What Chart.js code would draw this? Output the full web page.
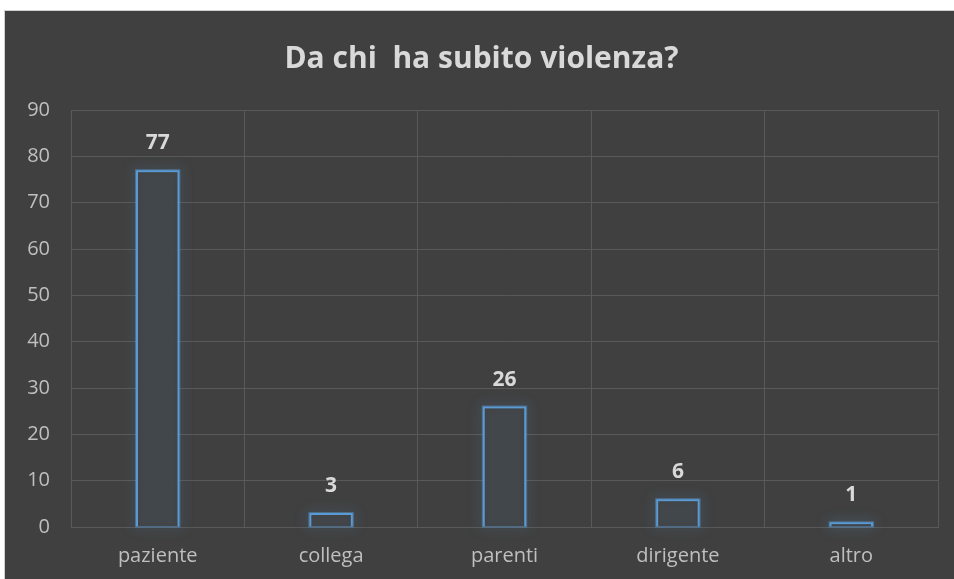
<!DOCTYPE html>
<html>
<head>
<meta charset="utf-8">
<script src="https://cdn.jsdelivr.net/npm/chart.js@4/dist/chart.umd.min.js"></script>
<style>
    body { margin: 0; background: #ffffff; }
    #wrap {
        position: absolute; left: 4px; top: 10px;
        width: 950px; height: 569px;
        background: #404040;
        border-top: 1px solid #d0d0d0;
        border-left: 1px solid #d0d0d0;
        box-sizing: border-box;
    }
</style>
</head>
<body>
<div id="wrap"><canvas id="violenzaChart"></canvas></div>
<script>
const categories = ["paziente", "collega", "parenti", "dirigente", "altro"];
const values = [77, 3, 26, 6, 1];
const yTicks = [0, 10, 20, 30, 40, 50, 60, 70, 80, 90];

const FONT = "'Open Sans', sans-serif";

// glow round the bars
const glowPlugin = {
    id: "glow",
    beforeDatasetDraw(chart) {
        const ctx = chart.ctx;
        ctx.save();
        ctx.shadowColor = "rgba(91, 155, 213, 1)";
        ctx.shadowBlur = 12;
        const meta = chart.getDatasetMeta(0);
        meta.data.forEach(bar => {
            const p = bar.getProps(["x", "y", "base", "width"], true);
            ctx.strokeStyle = "rgba(91, 155, 213, 0.5)";
            ctx.lineWidth = 2;
            ctx.strokeRect(p.x - p.width / 2, p.y, p.width, p.base - p.y);
        });
        ctx.restore();
        ctx.save();
        ctx.shadowColor = "rgba(91, 155, 213, 0.8)";
        ctx.shadowBlur = 6;
    },
    afterDatasetDraw(chart) {
        chart.ctx.restore();
    }
};

// value above each bar
const labelPlugin = {
    id: "barLabels",
    afterDatasetsDraw(chart) {
        const ctx = chart.ctx;
        const meta = chart.getDatasetMeta(0);
        ctx.save();
        ctx.font = "bold 21px " + FONT;
        ctx.fillStyle = "#d9d9d9";
        ctx.textAlign = "center";
        ctx.textBaseline = "middle";
        meta.data.forEach((bar, i) => {
            ctx.fillText(values[i], bar.x, bar.y - 27);
        });
        ctx.restore();
    }
};

new Chart(document.getElementById("violenzaChart"), {
    type: "bar",
    data: {
        labels: categories,
        datasets: [{
            data: values,
            backgroundColor: "rgba(64, 64, 64, 0.9)",
            borderColor: "#5b9bd5",
            borderWidth: 2,
            barPercentage: 0.25,
            categoryPercentage: 1
        }]
    },
    options: {
        responsive: true,
        maintainAspectRatio: false,
        animation: false,
        layout: { padding: { left: 20, right: 16, top: 0, bottom: 0 } },
        plugins: {
            legend: { display: false },
            tooltip: { enabled: false },
            title: {
                display: true,
                text: "Da chi  ha subito violenza?",
                color: "#d9d9d9",
                font: { family: FONT, size: 30, weight: "bold" },
                padding: { top: 30, bottom: 33 }
            }
        },
        scales: {
            x: {
                grid: { color: "#595959", drawTicks: false, offset: true },
                border: { color: "#595959" },
                ticks: { color: "#bfbfbf", font: { family: FONT, size: 20 }, padding: 17 },
                afterFit(scale) { scale.height = 52; }
            },
            y: {
                min: 0,
                max: 90,
                grid: { color: "#595959", drawTicks: false },
                border: { display: false },
                afterBuildTicks(scale) { scale.ticks = yTicks.map(v => ({ value: v })); },
                ticks: { color: "#bfbfbf", font: { family: FONT, size: 20 }, padding: 21 },
                afterFit(scale) { scale.width = 46; }
            }
        }
    },
    plugins: [glowPlugin, labelPlugin]
});
</script>
</body>
</html>
